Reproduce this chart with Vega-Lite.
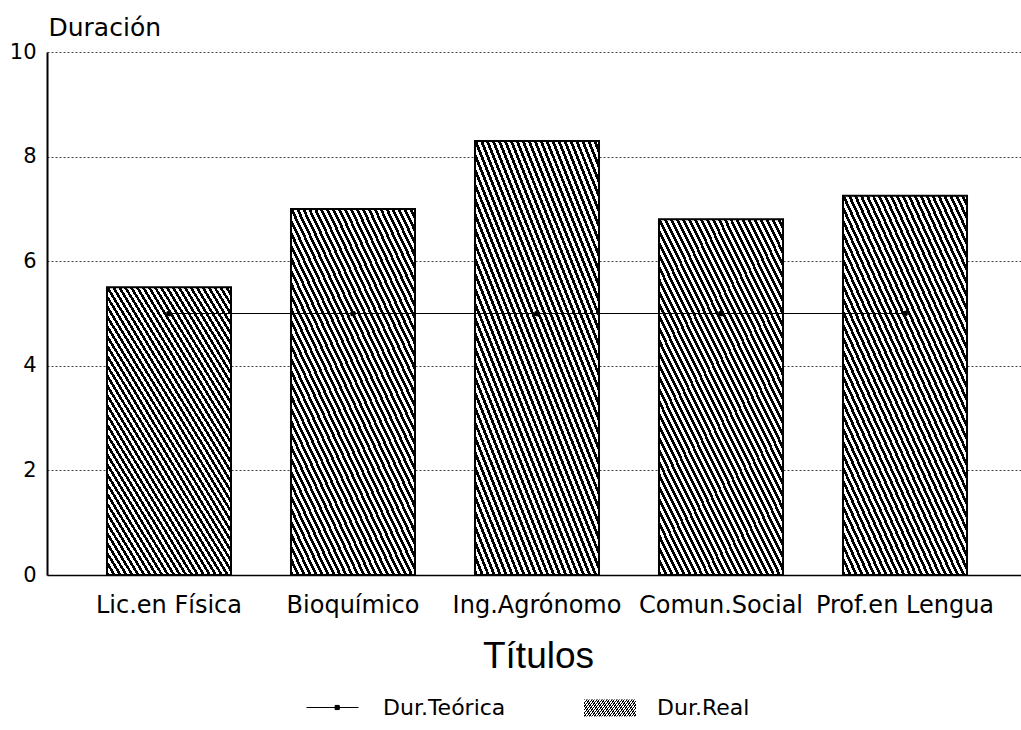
{
  "$schema": "https://vega.github.io/schema/vega-lite/v6.json",
  "width": 974,
  "height": 523,
  "autosize": {"type": "none"},
  "padding": {"left": 47, "top": 52, "right": 0, "bottom": 155},
  "background": "white",
  "config": {"view": {"stroke": null}, "font": "DejaVu Sans"},
  "data": {
    "values": [
      {"titulo": "Lic.en Física", "real": 5.5, "teorica": 5},
      {"titulo": "Bioquímico", "real": 7.0, "teorica": 5},
      {"titulo": "Ing.Agrónomo", "real": 8.3, "teorica": 5},
      {"titulo": "Comun.Social", "real": 6.8, "teorica": 5},
      {"titulo": "Prof.en Lengua", "real": 7.25, "teorica": 5}
    ]
  },
  "encoding": {
    "x": {
      "field": "titulo",
      "type": "nominal",
      "sort": null,
      "scale": {"range": [0, 980], "paddingInner": 0.326, "paddingOuter": 0.326},
      "axis": {
        "title": "Títulos",
        "labelAngle": 0,
        "labelFont": "DejaVu Sans",
        "labelFontSize": 24,
        "labelColor": "black",
        "labelPadding": 18,
        "labelBaseline": "top",
        "labelOverlap": false,
        "ticks": false,
        "domainColor": "black",
        "domainWidth": 1.5,
        "grid": false,
        "titleFont": "Liberation Sans",
        "titleFontSize": 37,
        "titleFontWeight": "normal",
        "titleColor": "black",
        "titleBaseline": "alphabetic",
        "titleX": 491,
        "titleY": 92
      }
    }
  },
  "layer": [
    {
      "mark": {
        "type": "bar",
        "stroke": "black",
        "strokeWidth": 2,
        "fill": {"gradient": "linear", "x1": 0, "y1": 1, "x2": 0.81, "y2": -0.136, "stops": [
          {"offset":0,"color":"#000"},{"offset":0.01,"color":"#000"},{"offset":0.01,"color":"#fff"},{"offset":0.02,"color":"#fff"},
          {"offset":0.02,"color":"#000"},{"offset":0.03,"color":"#000"},{"offset":0.03,"color":"#fff"},{"offset":0.04,"color":"#fff"},
          {"offset":0.04,"color":"#000"},{"offset":0.05,"color":"#000"},{"offset":0.05,"color":"#fff"},{"offset":0.06,"color":"#fff"},
          {"offset":0.06,"color":"#000"},{"offset":0.07,"color":"#000"},{"offset":0.07,"color":"#fff"},{"offset":0.08,"color":"#fff"},
          {"offset":0.08,"color":"#000"},{"offset":0.09,"color":"#000"},{"offset":0.09,"color":"#fff"},{"offset":0.10,"color":"#fff"},
          {"offset":0.10,"color":"#000"},{"offset":0.11,"color":"#000"},{"offset":0.11,"color":"#fff"},{"offset":0.12,"color":"#fff"},
          {"offset":0.12,"color":"#000"},{"offset":0.13,"color":"#000"},{"offset":0.13,"color":"#fff"},{"offset":0.14,"color":"#fff"},
          {"offset":0.14,"color":"#000"},{"offset":0.15,"color":"#000"},{"offset":0.15,"color":"#fff"},{"offset":0.16,"color":"#fff"},
          {"offset":0.16,"color":"#000"},{"offset":0.17,"color":"#000"},{"offset":0.17,"color":"#fff"},{"offset":0.18,"color":"#fff"},
          {"offset":0.18,"color":"#000"},{"offset":0.19,"color":"#000"},{"offset":0.19,"color":"#fff"},{"offset":0.20,"color":"#fff"},
          {"offset":0.20,"color":"#000"},{"offset":0.21,"color":"#000"},{"offset":0.21,"color":"#fff"},{"offset":0.22,"color":"#fff"},
          {"offset":0.22,"color":"#000"},{"offset":0.23,"color":"#000"},{"offset":0.23,"color":"#fff"},{"offset":0.24,"color":"#fff"},
          {"offset":0.24,"color":"#000"},{"offset":0.25,"color":"#000"},{"offset":0.25,"color":"#fff"},{"offset":0.26,"color":"#fff"},
          {"offset":0.26,"color":"#000"},{"offset":0.27,"color":"#000"},{"offset":0.27,"color":"#fff"},{"offset":0.28,"color":"#fff"},
          {"offset":0.28,"color":"#000"},{"offset":0.29,"color":"#000"},{"offset":0.29,"color":"#fff"},{"offset":0.30,"color":"#fff"},
          {"offset":0.30,"color":"#000"},{"offset":0.31,"color":"#000"},{"offset":0.31,"color":"#fff"},{"offset":0.32,"color":"#fff"},
          {"offset":0.32,"color":"#000"},{"offset":0.33,"color":"#000"},{"offset":0.33,"color":"#fff"},{"offset":0.34,"color":"#fff"},
          {"offset":0.34,"color":"#000"},{"offset":0.35,"color":"#000"},{"offset":0.35,"color":"#fff"},{"offset":0.36,"color":"#fff"},
          {"offset":0.36,"color":"#000"},{"offset":0.37,"color":"#000"},{"offset":0.37,"color":"#fff"},{"offset":0.38,"color":"#fff"},
          {"offset":0.38,"color":"#000"},{"offset":0.39,"color":"#000"},{"offset":0.39,"color":"#fff"},{"offset":0.40,"color":"#fff"},
          {"offset":0.40,"color":"#000"},{"offset":0.41,"color":"#000"},{"offset":0.41,"color":"#fff"},{"offset":0.42,"color":"#fff"},
          {"offset":0.42,"color":"#000"},{"offset":0.43,"color":"#000"},{"offset":0.43,"color":"#fff"},{"offset":0.44,"color":"#fff"},
          {"offset":0.44,"color":"#000"},{"offset":0.45,"color":"#000"},{"offset":0.45,"color":"#fff"},{"offset":0.46,"color":"#fff"},
          {"offset":0.46,"color":"#000"},{"offset":0.47,"color":"#000"},{"offset":0.47,"color":"#fff"},{"offset":0.48,"color":"#fff"},
          {"offset":0.48,"color":"#000"},{"offset":0.49,"color":"#000"},{"offset":0.49,"color":"#fff"},{"offset":0.50,"color":"#fff"},
          {"offset":0.50,"color":"#000"},{"offset":0.51,"color":"#000"},{"offset":0.51,"color":"#fff"},{"offset":0.52,"color":"#fff"},
          {"offset":0.52,"color":"#000"},{"offset":0.53,"color":"#000"},{"offset":0.53,"color":"#fff"},{"offset":0.54,"color":"#fff"},
          {"offset":0.54,"color":"#000"},{"offset":0.55,"color":"#000"},{"offset":0.55,"color":"#fff"},{"offset":0.56,"color":"#fff"},
          {"offset":0.56,"color":"#000"},{"offset":0.57,"color":"#000"},{"offset":0.57,"color":"#fff"},{"offset":0.58,"color":"#fff"},
          {"offset":0.58,"color":"#000"},{"offset":0.59,"color":"#000"},{"offset":0.59,"color":"#fff"},{"offset":0.60,"color":"#fff"},
          {"offset":0.60,"color":"#000"},{"offset":0.61,"color":"#000"},{"offset":0.61,"color":"#fff"},{"offset":0.62,"color":"#fff"},
          {"offset":0.62,"color":"#000"},{"offset":0.63,"color":"#000"},{"offset":0.63,"color":"#fff"},{"offset":0.64,"color":"#fff"},
          {"offset":0.64,"color":"#000"},{"offset":0.65,"color":"#000"},{"offset":0.65,"color":"#fff"},{"offset":0.66,"color":"#fff"},
          {"offset":0.66,"color":"#000"},{"offset":0.67,"color":"#000"},{"offset":0.67,"color":"#fff"},{"offset":0.68,"color":"#fff"},
          {"offset":0.68,"color":"#000"},{"offset":0.69,"color":"#000"},{"offset":0.69,"color":"#fff"},{"offset":0.70,"color":"#fff"},
          {"offset":0.70,"color":"#000"},{"offset":0.71,"color":"#000"},{"offset":0.71,"color":"#fff"},{"offset":0.72,"color":"#fff"},
          {"offset":0.72,"color":"#000"},{"offset":0.73,"color":"#000"},{"offset":0.73,"color":"#fff"},{"offset":0.74,"color":"#fff"},
          {"offset":0.74,"color":"#000"},{"offset":0.75,"color":"#000"},{"offset":0.75,"color":"#fff"},{"offset":0.76,"color":"#fff"},
          {"offset":0.76,"color":"#000"},{"offset":0.77,"color":"#000"},{"offset":0.77,"color":"#fff"},{"offset":0.78,"color":"#fff"},
          {"offset":0.78,"color":"#000"},{"offset":0.79,"color":"#000"},{"offset":0.79,"color":"#fff"},{"offset":0.80,"color":"#fff"},
          {"offset":0.80,"color":"#000"},{"offset":0.81,"color":"#000"},{"offset":0.81,"color":"#fff"},{"offset":0.82,"color":"#fff"},
          {"offset":0.82,"color":"#000"},{"offset":0.83,"color":"#000"},{"offset":0.83,"color":"#fff"},{"offset":0.84,"color":"#fff"},
          {"offset":0.84,"color":"#000"},{"offset":0.85,"color":"#000"},{"offset":0.85,"color":"#fff"},{"offset":0.86,"color":"#fff"},
          {"offset":0.86,"color":"#000"},{"offset":0.87,"color":"#000"},{"offset":0.87,"color":"#fff"},{"offset":0.88,"color":"#fff"},
          {"offset":0.88,"color":"#000"},{"offset":0.89,"color":"#000"},{"offset":0.89,"color":"#fff"},{"offset":0.90,"color":"#fff"},
          {"offset":0.90,"color":"#000"},{"offset":0.91,"color":"#000"},{"offset":0.91,"color":"#fff"},{"offset":0.92,"color":"#fff"},
          {"offset":0.92,"color":"#000"},{"offset":0.93,"color":"#000"},{"offset":0.93,"color":"#fff"},{"offset":0.94,"color":"#fff"},
          {"offset":0.94,"color":"#000"},{"offset":0.95,"color":"#000"},{"offset":0.95,"color":"#fff"},{"offset":0.96,"color":"#fff"},
          {"offset":0.96,"color":"#000"},{"offset":0.97,"color":"#000"},{"offset":0.97,"color":"#fff"},{"offset":0.98,"color":"#fff"},
          {"offset":0.98,"color":"#000"},{"offset":0.99,"color":"#000"},{"offset":0.99,"color":"#fff"},{"offset":1,"color":"#fff"}
        ]}
      },
      "encoding": {
        "y": {
          "field": "real",
          "type": "quantitative",
          "scale": {"domain": [0, 10], "nice": false},
          "axis": {
            "title": "Duración",
            "titleAngle": 0,
            "titleAlign": "left",
            "titleBaseline": "alphabetic",
            "titleX": 1,
            "titleY": -17,
            "titleFont": "DejaVu Sans",
            "titleFontSize": 25,
            "titleFontWeight": "normal",
            "titleColor": "black",
            "values": [0, 2, 4, 6, 8, 10],
            "labelFont": "DejaVu Sans",
            "labelFontSize": 21,
            "labelColor": "black",
            "labelPadding": 11,
            "ticks": false,
            "domainColor": "black",
            "domainWidth": 2,
            "grid": true,
            "gridColor": "#444",
            "gridDash": [2, 2],
            "gridWidth": 1
          }
        },
        "opacity": {
          "datum": "Dur.Real",
          "type": "nominal",
          "scale": {"domain": ["Dur.Real"], "range": [1]},
          "legend": {
            "orient": "none",
            "legendX": 536,
            "legendY": 629,
            "direction": "horizontal",
            "title": null,
            "padding": 0,
            "symbolSize": 2704,
            "symbolType": "M-1,-0.33H1V0.33H-1Z",
            "symbolStrokeColor": "black",
            "symbolStrokeWidth": 1.5,
            "labelFont": "DejaVu Sans",
            "labelFontSize": 22,
            "labelColor": "black",
            "labelOffset": 20,
            "encode": {
              "symbols": {
                "stroke": {"value": "black"},
                "strokeWidth": {"value": 1.5},
                "fill": {"value": {"gradient": "linear", "x1": 0, "y1": 1, "x2": 1.129, "y2": 0.824, "stops": [
                  {"offset":0,"color":"#000"},{"offset":0.0625,"color":"#000"},{"offset":0.0625,"color":"#fff"},{"offset":0.125,"color":"#fff"},
                  {"offset":0.125,"color":"#000"},{"offset":0.1875,"color":"#000"},{"offset":0.1875,"color":"#fff"},{"offset":0.25,"color":"#fff"},
                  {"offset":0.25,"color":"#000"},{"offset":0.3125,"color":"#000"},{"offset":0.3125,"color":"#fff"},{"offset":0.375,"color":"#fff"},
                  {"offset":0.375,"color":"#000"},{"offset":0.4375,"color":"#000"},{"offset":0.4375,"color":"#fff"},{"offset":0.5,"color":"#fff"},
                  {"offset":0.5,"color":"#000"},{"offset":0.5625,"color":"#000"},{"offset":0.5625,"color":"#fff"},{"offset":0.625,"color":"#fff"},
                  {"offset":0.625,"color":"#000"},{"offset":0.6875,"color":"#000"},{"offset":0.6875,"color":"#fff"},{"offset":0.75,"color":"#fff"},
                  {"offset":0.75,"color":"#000"},{"offset":0.8125,"color":"#000"},{"offset":0.8125,"color":"#fff"},{"offset":0.875,"color":"#fff"},
                  {"offset":0.875,"color":"#000"},{"offset":0.9375,"color":"#000"},{"offset":0.9375,"color":"#fff"},{"offset":1,"color":"#fff"}
                ]}}
              }
            }
          }
        }
      }
    },
    {
      "mark": {"type": "line", "strokeWidth": 1, "point": {"filled": true, "size": 14, "color": "black"}},
      "encoding": {
        "y": {"field": "teorica", "type": "quantitative", "title": "Duración"},
        "stroke": {
          "datum": "Dur.Teórica",
          "type": "nominal",
          "scale": {"domain": ["Dur.Teórica"], "range": ["black"]},
          "legend": {
            "orient": "none",
            "legendX": 259,
            "legendY": 629,
            "direction": "horizontal",
            "title": null,
            "padding": 0,
            "symbolSize": 2704,
            "symbolType": "M-1,0H1M0.1,-0.08H0.26V0.08H0.1Z",
            "symbolFillColor": "black",
            "symbolStrokeColor": "black",
            "symbolStrokeWidth": 1,
            "labelFont": "DejaVu Sans",
            "labelFontSize": 22,
            "labelColor": "black",
            "labelOffset": 24
          }
        }
      }
    }
  ]
}
